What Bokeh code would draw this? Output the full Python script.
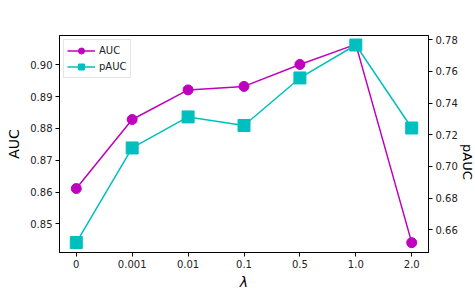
import math
from bokeh.plotting import figure
from bokeh.models import Range1d, LinearAxis, FixedTicker, NumeralTickFormatter, Legend, LegendItem
from bokeh.embed import file_html
from bokeh.resources import INLINE

lambdas = ["0", "0.001", "0.01", "0.1", "0.5", "1.0", "2.0"]
auc = [0.8611, 0.8828, 0.8921, 0.8932, 0.9001, 0.9064, 0.8441]
pauc = [0.652, 0.7117, 0.7313, 0.7259, 0.7559, 0.7767, 0.7243]
auc_ticks = [0.85, 0.86, 0.87, 0.88, 0.89, 0.90]
pauc_ticks = [0.66, 0.68, 0.70, 0.72, 0.74, 0.76, 0.78]

MAG = "#bf00bf"
CYN = "#00bfbf"
FONT = "DejaVu Sans"

xs = list(range(len(lambdas)))

p = figure(output_backend="svg", toolbar_location=None,
           frame_width=369, frame_height=217,
           min_border_left=59, min_border_top=35, min_border_right=40, min_border_bottom=30,
           x_range=Range1d(-0.3, len(lambdas) - 1 + 0.3),
           y_range=Range1d(0.8410, 0.9092))
p.extra_y_ranges = {"p": Range1d(0.6457, 0.7827)}

p.xgrid.visible = False
p.ygrid.visible = False
p.outline_line_color = "black"
p.outline_line_width = 1
p.background_fill_color = "white"
p.border_fill_color = "white"

l1 = p.line(xs, auc, color=MAG, line_width=1.5)
s1 = p.scatter(xs, auc, marker="circle", size=10, fill_color=MAG, line_color=MAG)
l2 = p.line(xs, pauc, color=CYN, line_width=1.5, y_range_name="p")
s2 = p.scatter(xs, pauc, marker="square", size=12, fill_color=CYN, line_color=CYN, y_range_name="p")

right = LinearAxis(y_range_name="p")
p.add_layout(right, "right")

p.xaxis.ticker = FixedTicker(ticks=xs)
p.xaxis.major_label_overrides = {i: s for i, s in enumerate(lambdas)}
p.yaxis[0].ticker = FixedTicker(ticks=auc_ticks)
p.yaxis[0].formatter = NumeralTickFormatter(format="0.00")
right.ticker = FixedTicker(ticks=pauc_ticks)
right.formatter = NumeralTickFormatter(format="0.00")

p.xaxis.axis_label = "λ"
p.yaxis[0].axis_label = "AUC"
right.axis_label = "pAUC"
right.axis_label_orientation = -math.pi / 2

for ax in [p.xaxis[0], p.yaxis[0], right]:
    ax.minor_tick_line_color = None
    ax.major_tick_in = 0
    ax.major_tick_out = 4
    ax.major_tick_line_color = "black"
    ax.axis_line_color = "black"
    ax.major_label_text_font = FONT
    ax.major_label_text_font_size = "10px"
    ax.major_label_text_color = "#222222"
    ax.major_label_standoff = 3
    ax.axis_label_text_font = FONT
    ax.axis_label_text_font_size = "14px"
    ax.axis_label_text_font_style = "normal"
    ax.axis_label_text_color = "black"
    ax.axis_label_standoff = 4
p.xaxis[0].axis_label_text_font_style = "italic"
p.xaxis[0].axis_label_standoff = 3
p.yaxis[0].axis_label_standoff = 5
right.axis_label_standoff = 7
right.axis_label_text_font_size = "13px"

legend = Legend(items=[LegendItem(label="AUC", renderers=[l1, s1]),
                       LegendItem(label="pAUC", renderers=[l2, s2])],
                location="top_left")
legend.label_text_font = FONT
legend.label_text_font_size = "10px"
legend.label_text_color = "#222222"
legend.border_line_color = "#cccccc"
legend.border_line_width = 1
legend.margin = 4
legend.padding = 3
legend.spacing = 1
legend.glyph_width = 28
legend.glyph_height = 15
legend.label_standoff = 4
legend.label_height = 15
legend.background_fill_alpha = 0.8
p.add_layout(legend)

open("out.html", "w").write(file_html(p, INLINE))
